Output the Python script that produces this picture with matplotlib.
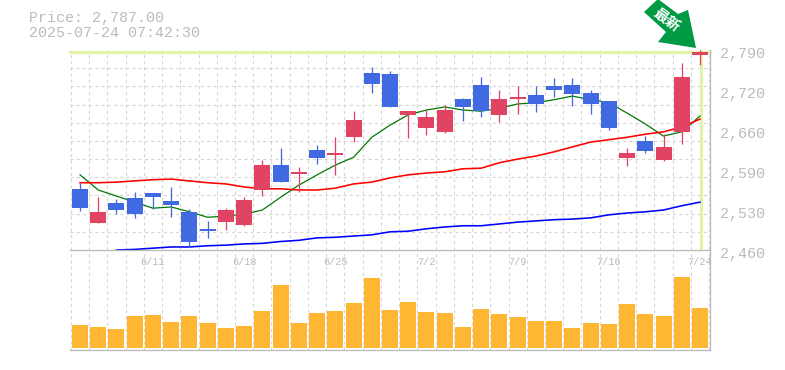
import matplotlib
matplotlib.use("Agg")
import matplotlib.pyplot as plt
from matplotlib.patches import Polygon
from matplotlib.transforms import Affine2D, ScaledTranslation

W, H = 785, 370

# ---- data ----
opens = [2561, 2505, 2538, 2546, 2554, 2541, 2523, 2494, 2506, 2501, 2559, 2600, 2585, 2625, 2617, 2646, 2752, 2750,
         2683, 2661, 2655, 2709, 2732, 2683, 2709, 2716, 2731, 2732, 2719, 2706, 2612, 2640, 2608, 2655, 2782]
highs = [2571, 2547, 2544, 2556, 2554, 2564, 2528, 2508, 2529, 2547, 2608, 2628, 2597, 2633, 2646, 2689, 2762, 2755,
         2689, 2691, 2699, 2711, 2745, 2724, 2731, 2731, 2744, 2744, 2724, 2706, 2628, 2648, 2651, 2769, 2790]
lows = [2524, 2505, 2519, 2513, 2528, 2514, 2465, 2480, 2493, 2500, 2549, 2572, 2556, 2602, 2584, 2638, 2719, 2696,
        2645, 2650, 2653, 2673, 2679, 2671, 2684, 2688, 2712, 2698, 2684, 2658, 2599, 2620, 2607, 2635, 2765]
closes = [2529, 2523, 2526, 2519, 2547, 2534, 2473, 2492, 2526, 2542, 2600, 2572, 2589, 2612, 2620, 2675, 2734, 2696,
          2689, 2679, 2691, 2696, 2689, 2709, 2712, 2701, 2724, 2717, 2701, 2661, 2620, 2623, 2630, 2745, 2787]
ma_green = [2584, 2559, 2549, 2539, 2529, 2531, 2523, 2514, 2516, 2519, 2526, 2547, 2567, 2584, 2600, 2613, 2646, 2666,
            2683, 2691, 2696, 2691, 2689, 2694, 2701, 2703, 2708, 2714, 2708, 2703, 2686, 2668, 2648, 2655, 2681]
ma_red = [2571, 2571, 2572, 2574, 2576, 2577, 2574, 2571, 2569, 2564, 2561, 2561, 2559, 2559, 2562, 2569, 2572, 2579,
          2584, 2587, 2589, 2594, 2595, 2604, 2610, 2615, 2622, 2630, 2638, 2642, 2646, 2651, 2655, 2663, 2676]
ma_blue_start = 2
ma_blue = [2460, 2461, 2463, 2465, 2465, 2467, 2468, 2470, 2471, 2474, 2476, 2480, 2481, 2483, 2485, 2490, 2491,
           2495, 2498, 2500, 2500, 2503, 2506, 2508, 2510, 2511, 2513, 2518, 2521, 2523, 2526, 2533, 2539]
volumes = [23.3, 21.3, 19.3, 32.3, 33.3, 26.3, 32.3, 25.3, 20.3, 22.3, 37.3, 63.3, 25.3, 35.3, 37.3, 45.3, 70.3, 38.3,
           46.3, 36.3, 35.3, 21.3, 39.3, 34.3, 31.3, 27.3, 27.3, 20.3, 25.3, 24.3, 44.3, 34.3, 32.3, 71.3, 40.3]
price_ticks = [2790, 2724, 2658, 2592, 2526, 2460]
price_labels = ["2,790", "2,720", "2,660", "2,590", "2,530", "2,460"]
date_idx = [4, 9, 14, 19, 24, 29, 34]
date_labels = ["6/11", "6/18", "6/25", "7/2", "7/9", "7/16", "7/24"]
current_price = 2787

# ---- styles ----
BLUE = "#4169E1"
RED = "#E14462"
GRID = "#D6D6D6"
AXIS = "#BBBBBB"
BAND = "#E2F5A6"
VOL = "#FFB733"
ARROW = "#009944"
MONO = "Liberation Mono"
px = 0.72  # one pixel in points at dpi 100

fig = plt.figure(figsize=(W / 100, H / 100), dpi=100, facecolor="white")
pix = Affine2D().scale(1 / W, -1 / H).translate(0, 1) + fig.transFigure


def axes_px(left, top, right, bottom):
    return fig.add_axes([left / W, 1 - bottom / H, (right - left) / W, (bottom - top) / H])


ax = axes_px(70, 50, 710, 250)
av = axes_px(70, 250, 710, 350)
xlim = (-0.55, 34.55)
n = len(closes)
xs = list(range(n))
bar_w = 16 / 18.235
grid_lw = 1.15 * px
dash = (0, (2.7, 2.7))

for a in (ax, av):
    a.set_xlim(*xlim)
    a.set_facecolor("none")
    for s in a.spines.values():
        s.set_visible(False)
    a.spines["right"].set_visible(True)
    a.spines["bottom"].set_visible(True)
    a.spines["right"].set_color(AXIS)
    a.spines["bottom"].set_color(AXIS)
    a.spines["right"].set_linewidth(1.3 * px)
    a.spines["bottom"].set_linewidth(1.3 * px)
    a.set_xticks([i - 0.5 for i in range(n + 1)])
    a.tick_params(axis="x", length=0, labelbottom=False)
    a.grid(axis="x", color=GRID, lw=grid_lw, ls=dash, zorder=0)
    a.set_axisbelow(True)

# price panel
ax.set_ylim(2460, 2790)
ax.set_yticks(list(range(2490, 2790, 30)), minor=True)
ax.grid(axis="y", which="minor", color=GRID, lw=grid_lw, ls=dash, zorder=0)
ax.tick_params(axis="y", which="minor", length=0)
ax.yaxis.tick_right()
ax.set_yticks(price_ticks)
ax.set_yticklabels(price_labels, family=MONO, fontsize=10.8, color=AXIS)
ax.tick_params(axis="y", which="major", length=0, pad=7)
shift = ScaledTranslation(0, -0.03, fig.dpi_scale_trans)
for lab in ax.get_yticklabels():
    lab.set_transform(lab.get_transform() + shift)

ax.axhline(current_price, color=BAND, lw=3 * px, zorder=1, clip_on=False)
ax.axvline(xs[-1] + 0.05, ymin=0.01, color=BAND, lw=3 * px, zorder=1)

ax.plot(xs, ma_green, color="#007A00", lw=1.25 * px, zorder=2)
ax.plot(xs, ma_red, color="#FF0000", lw=1.6 * px, zorder=2)
ax.plot(xs[ma_blue_start:], ma_blue, color="#0000FF", lw=1.6 * px, zorder=2, clip_on=False)

colors = [RED if c >= o else BLUE for o, c in zip(opens, closes)]
ax.vlines(xs, lows, highs, colors=colors, lw=1.3 * px, zorder=3, clip_on=False)
ax.bar(xs, [abs(c - o) for o, c in zip(opens, closes)], bottom=[min(o, c) for o, c in zip(opens, closes)],
       width=bar_w, color=colors, lw=0, zorder=4, clip_on=False)

# volume panel
av.set_ylim(-1.7, 98.3)
av.set_yticks([])
av.bar(xs, volumes, width=bar_w, color=VOL, lw=0, zorder=3)
for i, lab in zip(date_idx, date_labels):
    av.text(i, 86.3, lab, family=MONO, fontsize=7.4, color=AXIS, ha="center", va="center", clip_on=False, zorder=5)

# header text
fig.text(29, 18, "Price: 2,787.00", transform=pix, family=MONO, fontsize=10.8, color=AXIS, va="center", ha="left")
fig.text(29, 33, "2025-07-24 07:42:30", transform=pix, family=MONO, fontsize=10.8, color=AXIS, va="center", ha="left")

# arrow marker
outline = [(644, 12), (658, -1), (678, 14), (688, 10), (696, 48), (658, 42), (666, 32)]
fig.add_artist(Polygon(outline, closed=True, transform=pix, facecolor=ARROW, edgecolor="none", zorder=6))
fig.text(666.5, 19.5, "最新", transform=pix, family="Noto Sans CJK JP", fontweight="bold", fontsize=10.5, color="white",
         rotation=-36, rotation_mode="anchor", ha="center", va="center", zorder=7)

fig.savefig("out.png", dpi=100)
